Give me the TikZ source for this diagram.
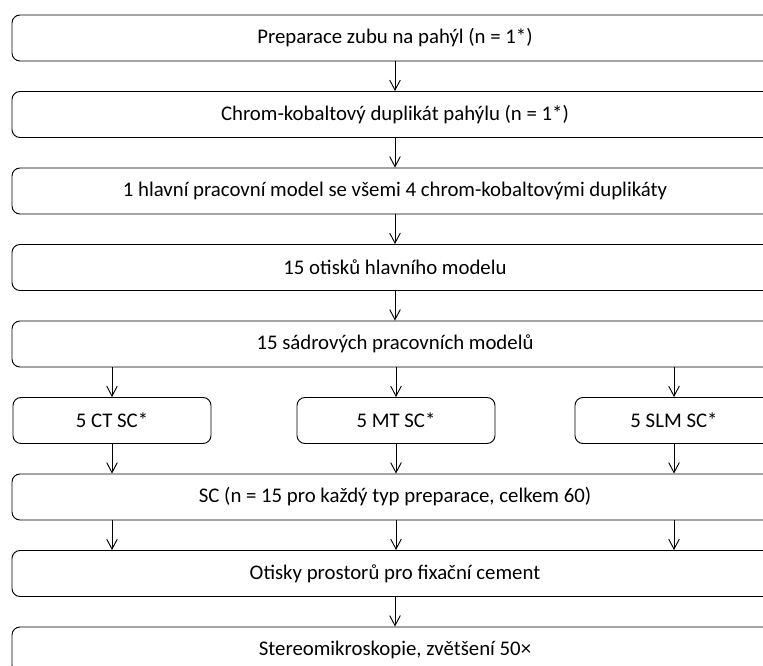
\documentclass[tikz,border=0pt]{standalone}
\usepackage{fontspec}
\setmainfont{Carlito}
\usetikzlibrary{arrows.meta}
\tikzset{
    wide/.style={draw, rounded corners=6pt, minimum width=574.5pt, minimum height=34.5pt, inner sep=0pt},
    small/.style={draw, rounded corners=6pt, minimum width=148.5pt, minimum height=34.5pt, inner sep=0pt},
    flow/.style={-{Straight Barb[length=7.5pt,width=8pt]}}
}
\begin{document}
\begin{tikzpicture}[x=0.75pt, y=-0.75pt, line width=0.7pt, font=\fontsize{15.6}{18}\selectfont]
\useasboundingbox (0,0) rectangle (763,666);
\clip (0,0) rectangle (763,666);
\node[wide] (prep) at (395,38) {Preparace zubu na pahýl (n = 1*)};
\node[wide] (dupl) at (395,114.5) {Chrom-kobaltový duplikát pahýlu (n = 1*)};
\node[wide] (model) at (395,191) {1 hlavní pracovní model se všemi 4 chrom-kobaltovými duplikáty};
\node[wide] (otisky) at (395,267.5) {15 otisků hlavního modelu};
\node[wide] (sadr) at (395,344) {15 sádrových pracovních modelů};
\node[small] (ct) at (112,420.5) {5 CT SC*};
\node[small] (mt) at (396,420.5) {5 MT SC*};
\node[small] (slm) at (674,420.5) {5 SLM SC*};
\node[wide] (sc) at (395,497) {SC (n = 15 pro každý typ preparace, celkem 60)};
\node[wide] (cement) at (395,573.5) {Otisky prostorů pro fixační cement};
\node[wide] (stereo) at (395,650) {Stereomikroskopie, zvětšení 50×};
\draw[flow] (prep) -- (dupl);
\draw[flow] (dupl) -- (model);
\draw[flow] (model) -- (otisky);
\draw[flow] (otisky) -- (sadr);
\foreach \n in {ct,mt,slm} {
\draw[flow] (sadr.south -| \n) -- (\n);
\draw[flow] (\n) -- (sc.north -| \n);
\draw[flow] (sc.south -| \n) -- (cement.north -| \n);
}
\draw[flow] (cement) -- (stereo);
\end{tikzpicture}
\end{document}
